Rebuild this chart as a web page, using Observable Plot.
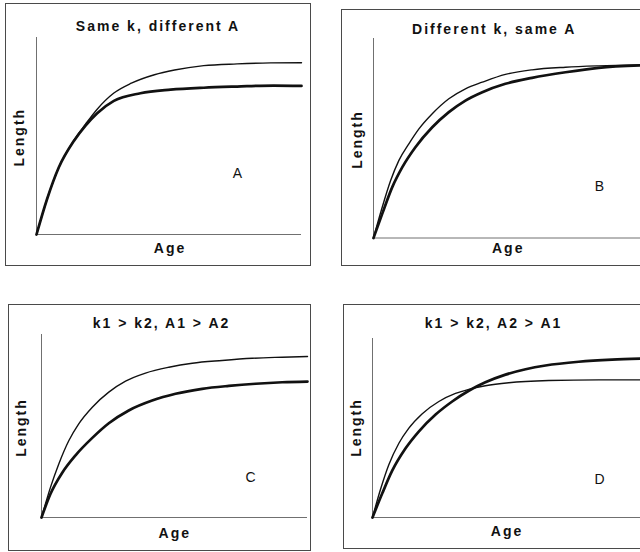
<!DOCTYPE html>
<html><head><meta charset="utf-8">
<script src="https://cdn.jsdelivr.net/npm/d3@7"></script>
<script src="https://cdn.jsdelivr.net/npm/@observablehq/plot@0.6"></script>
<style>
html,body{margin:0;padding:0;background:#fff;overflow:hidden;}
#root{position:relative;width:640px;height:552px;overflow:hidden;background:#fff;}
.panel{position:absolute;border:1px solid #4a4a4a;background:#fff;}
.panel svg{display:block;}
</style></head><body><div id="root"></div>
<script>
// ---- texts ----
const titles = ["Same k, different A", "Different k, same A", "k1 > k2, A1 > A2", "k1 > k2, A2 > A1"];
const panelLetters = ["A", "B", "C", "D"];
const xLabel = "Age";
const yLabel = "Length";

// ---- curves (age 0..10, length 0..100 of axis height) ----
// Panel A
const ageA_thin = [0, 0.40, 0.84, 1.41, 1.85, 2.29, 2.92, 3.58, 4.45, 5.21, 6.31, 7.57, 8.83, 10];
const lenA_thin = [0, 18.0, 34.0, 47.8, 56.0, 63.6, 71.8, 76.8, 81.1, 83.5, 85.7, 86.6, 87.1, 87.2];
const ageA_thick = [0, 0.40, 0.84, 1.41, 1.85, 2.29, 2.92, 3.92, 5.06, 6.31, 7.57, 8.95, 10];
const lenA_thick = [0, 18.0, 34.0, 47.5, 55.3, 61.6, 67.8, 71.7, 73.5, 74.5, 75.1, 75.6, 75.4];
// Panel B
const ageB_thin = [0, 0.32, 0.63, 0.93, 1.30, 1.67, 2.16, 2.77, 3.38, 4.00, 4.85, 5.83, 7.06, 8.28, 9.82];
const lenB_thin = [0, 15.4, 28.8, 38.8, 47.2, 54.7, 62.3, 69.8, 74.8, 78.1, 82.0, 84.3, 85.6, 86.3, 86.8];
const ageB_thick = [0, 0.32, 0.69, 1.06, 1.54, 2.16, 2.77, 3.38, 4.00, 4.85, 5.83, 7.06, 8.28, 9.82];
const lenB_thick = [0, 12.1, 25.5, 35.5, 45.5, 55.5, 63.1, 68.9, 73.1, 77.3, 80.3, 83.1, 85.3, 86.5];
// Panel C
const ageC_thin = [0, 0.34, 0.65, 1.03, 1.40, 1.91, 2.53, 3.16, 3.91, 4.79, 5.67, 6.79, 7.92, 9.05, 10];
const lenC_thin = [0, 16.6, 29.3, 42.1, 51.2, 60.3, 68.5, 74.5, 78.9, 82.1, 84.3, 85.8, 87.0, 87.6, 88.0];
const ageC_thick = [0, 0.34, 0.78, 1.28, 1.91, 2.53, 3.28, 4.16, 5.04, 6.04, 7.04, 8.05, 9.05, 10];
const lenC_thick = [0, 13.0, 24.5, 34.0, 43.5, 51.5, 58.5, 63.9, 67.6, 70.3, 71.9, 73.1, 73.9, 74.3];
// Panel D
const ageD_thin = [0, 0.29, 0.60, 0.97, 1.33, 1.83, 2.44, 3.05, 3.54, 4.15, 5.01, 6.48, 8.32, 9.85];
const lenD_thin = [0, 15.5, 29.5, 41.5, 49.8, 58.0, 64.8, 69.3, 71.6, 73.6, 75.3, 76.5, 76.9, 76.9];
const ageD_thick = [0, 0.36, 0.72, 1.21, 1.70, 2.32, 2.93, 3.54, 4.15, 4.89, 5.63, 6.36, 7.58, 8.81, 9.85];
const lenD_thick = [0, 13.5, 26.0, 38.5, 48.0, 57.5, 64.8, 70.8, 75.5, 79.8, 82.8, 84.9, 87.0, 88.2, 88.8];

const curves = [
  [ageA_thin, lenA_thin, ageA_thick, lenA_thick],
  [ageB_thin, lenB_thin, ageB_thick, lenB_thick],
  [ageC_thin, lenC_thin, ageC_thick, lenC_thick],
  [ageD_thin, lenD_thin, ageD_thick, lenD_thick]
];

// ---- layout (positions and styles only) ----
const layout = [
  {left: 6, top: 4, w: 304, h: 261, ml: 30, mr: 9, mt: 33, mb: 31,
   title: [-11, -6.3], ylab: [-17, 1.2], xlab: [1, 18.7], letter: [69.5, 41.5]},
  {left: 342, top: 10, w: 313, h: 255, ml: 31, mr: 10, mt: 28, mb: 27.5,
   title: [-15.3, -4.7], ylab: [-16, 1.25], xlab: [-1.3, 14.8], letter: [91, 53]},
  {left: 9, top: 305, w: 301, h: 245, ml: 32, mr: 3, mt: 29, mb: 33,
   title: [-13, -6.3], ylab: [-20, 1.5], xlab: [0.3, 20.7], letter: [77, 56.2]},
  {left: 344, top: 305, w: 310, h: 243, ml: 28, mr: 10, mt: 33, mb: 31,
   title: [-15, -10.3], ylab: [-16, -0.5], xlab: [-1.5, 18.3], letter: [92, 55.8]}
];

const root = document.getElementById("root");
const font = "'Liberation Sans', Arial, Helvetica, sans-serif";

curves.forEach((c, i) => {
  const L = layout[i];
  const thin = c[0].map((a, j) => ({age: a, len: c[1][j]}));
  const thick = c[2].map((a, j) => ({age: a, len: c[3][j]}));
  const chart = Plot.plot({
    width: L.w, height: L.h,
    marginLeft: L.ml, marginRight: L.mr, marginTop: L.mt, marginBottom: L.mb,
    x: {domain: [0, 10], axis: null},
    y: {domain: [0, 100], axis: null},
    style: {fontFamily: font, fontSize: "14px", letterSpacing: "2px", background: "white", maxWidth: "none", overflow: "visible", color: "#111"},
    marks: [
      Plot.ruleX([0], {stroke: "#707070", strokeWidth: 1}),
      Plot.ruleY([0], {stroke: "#707070", strokeWidth: 1}),
      Plot.line(thin, {x: "age", y: "len", stroke: "#111", strokeWidth: 1.4, curve: "monotone-x"}),
      Plot.line(thick, {x: "age", y: "len", stroke: "#111", strokeWidth: 2.7, curve: "monotone-x"}),
      Plot.text([titles[i]], {text: d => d, frameAnchor: "top", textAnchor: "middle", lineAnchor: "bottom", dx: L.title[0], dy: L.title[1], fontWeight: "bold", fontSize: 14, fill: "#111"}),
      Plot.text([yLabel], {text: d => d, frameAnchor: "left", textAnchor: "middle", lineAnchor: "middle", rotate: -90, dx: L.ylab[0], dy: L.ylab[1], fontWeight: "bold", fontSize: 14, fill: "#111"}),
      Plot.text([xLabel], {text: d => d, frameAnchor: "bottom", textAnchor: "middle", lineAnchor: "bottom", dx: L.xlab[0], dy: L.xlab[1], fontWeight: "bold", fontSize: 14, fill: "#111"}),
      Plot.text([panelLetters[i]], {text: d => d, frameAnchor: "middle", textAnchor: "middle", lineAnchor: "bottom", dx: L.letter[0], dy: L.letter[1], fontWeight: "normal", fontSize: 14, fill: "#111"})
    ]
  });
  const div = document.createElement("div");
  div.className = "panel";
  div.style.left = (L.left - 1) + "px";
  div.style.top = (L.top - 1) + "px";
  div.style.width = L.w + "px";
  div.style.height = L.h + "px";
  div.appendChild(chart);
  root.appendChild(div);
});
</script></body></html>
